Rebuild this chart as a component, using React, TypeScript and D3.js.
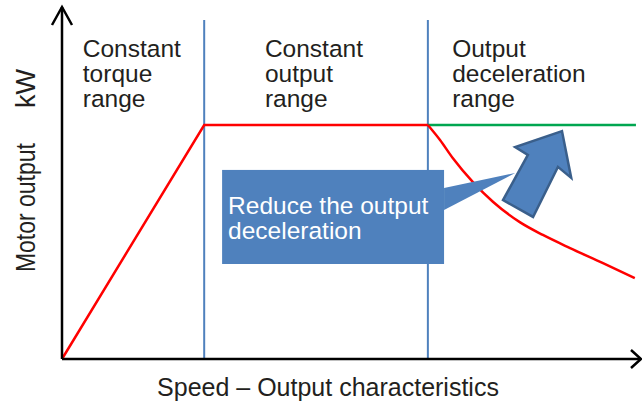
import React, { useEffect, useRef } from 'react';
import * as d3 from 'd3';

// speed (0-100) vs motor output (0-150, rated = 100)
const rampX = [0, 24.6];
const rampY = [0, 100];
const flatX = [24.6, 63.3];
const flatY = [100, 100];
const decelX = [63.3, 65.4, 67.6, 71.1, 74.6, 79.2, 83.2, 87.9, 93.6, 99.1];
const decelY = [100, 93.6, 85.9, 75.6, 67.1, 58.5, 53.0, 47.4, 41.0, 34.6];
const greenX = [63.3, 99.3];
const greenY = [100, 100];
const boundaries = [24.6, 63.3];

const regionLabels = [
  ['Constant', 'torque', 'range'],
  ['Constant', 'output', 'range'],
  ['Output', 'deceleration', 'range'],
];
const regionStart = [3.6, 35.1, 67.5];

const calloutLines = ['Reduce the output', 'deceleration'];
// annotation shapes, in data units
const boxX = [27.7, 66.1];
const boxY = [80.8, 40.6];
const pointerX = [66.1, 78.4, 66.1];
const pointerY = [73.1, 79.5, 63.7];
const arrowX = [86.5, 78.4, 80.6, 76.3, 81.5, 85.8, 88.1];
const arrowY = [97.4, 90.6, 87.2, 67.9, 60.7, 82.1, 77.4];

const width = 642,
  height = 405;
const font = '"Liberation Sans", Arial, sans-serif';

export default function App() {
  const ref = useRef<SVGSVGElement>(null);

  useEffect(() => {
    const svg = d3.select(ref.current);
    svg.selectAll('*').remove();

    const x = d3.scaleLinear().domain([0, 100]).range([62, 640]);
    const y = d3.scaleLinear().domain([0, 150]).range([359, 8]);

    const line = d3
      .line<[number, number]>()
      .x((d) => x(d[0]))
      .y((d) => y(d[1]));
    const smooth = d3
      .line<[number, number]>()
      .x((d) => x(d[0]))
      .y((d) => y(d[1]))
      .curve(d3.curveMonotoneX);
    const zip = (a: number[], b: number[]) => a.map((v, i) => [v, b[i]] as [number, number]);

    // region dividers
    svg
      .selectAll('line.div')
      .data(boundaries)
      .join('line')
      .attr('x1', (d) => x(d))
      .attr('x2', (d) => x(d))
      .attr('y1', 20)
      .attr('y2', y(0))
      .attr('stroke', '#4f81bd')
      .attr('stroke-width', 2);

    // green target line
    svg
      .append('path')
      .attr('d', line(zip(greenX, greenY)))
      .attr('fill', 'none')
      .attr('stroke', '#00a650')
      .attr('stroke-width', 2.5);

    // red output curve
    svg
      .append('path')
      .attr('d', line(zip(rampX.concat(flatX.slice(1)), rampY.concat(flatY.slice(1)))))
      .attr('fill', 'none')
      .attr('stroke', '#ff0000')
      .attr('stroke-width', 2.5);
    svg
      .append('path')
      .attr('d', smooth(zip(decelX, decelY)))
      .attr('fill', 'none')
      .attr('stroke', '#ff0000')
      .attr('stroke-width', 2.5);

    // axes with open arrowheads
    const ax = svg.append('g').attr('stroke', '#000').attr('stroke-width', 2.5).attr('fill', 'none');
    ax.append('path').attr('d', `M${x(0)},${y(0)}V${y(150) - 1}`);
    ax.append('path').attr('d', `M${x(0) - 10},${y(150) + 17}L${x(0)},${y(150) - 1}L${x(0) + 10},${y(150) + 17}`);
    ax.append('path').attr('d', `M${x(0)},${y(0)}H${width - 1}`);
    ax.append('path').attr('d', `M${width - 11},${y(0) - 9}L${width - 1},${y(0)}L${width - 11},${y(0) + 9}`);

    // region labels
    regionLabels.forEach((lines, i) => {
      const t = svg
        .append('text')
        .attr('x', x(regionStart[i]))
        .attr('y', 57)
        .attr('font-family', font)
        .attr('font-size', 24.5)
        .attr('fill', '#231f20');
      lines.forEach((s, j) => {
        t.append('tspan').attr('x', x(regionStart[i])).attr('dy', j === 0 ? 0 : 25).text(s);
      });
    });

    // callout
    svg
      .append('path')
      .attr('d', line(zip(pointerX, pointerY)) + 'Z')
      .attr('fill', '#4f81bd');
    svg
      .append('rect')
      .attr('x', x(boxX[0]))
      .attr('y', y(boxY[0]))
      .attr('width', x(boxX[1]) - x(boxX[0]))
      .attr('height', y(boxY[1]) - y(boxY[0]))
      .attr('fill', '#4f81bd');
    const ct = svg
      .append('text')
      .attr('font-family', font)
      .attr('font-size', 24.5)
      .attr('fill', '#fff');
    calloutLines.forEach((s, j) => {
      ct.append('tspan')
        .attr('x', x(boxX[0]) + 6)
        .attr('y', 214 + j * 25)
        .text(s);
    });

    // block arrow
    svg
      .append('path')
      .attr('d', line(zip(arrowX, arrowY)) + 'Z')
      .attr('fill', '#4f81bd')
      .attr('stroke', '#3a5f8b')
      .attr('stroke-width', 2.5)
      .attr('stroke-linejoin', 'miter');

    // axis titles (narrow lettering in the original)
    svg
      .append('text')
      .attr('transform', 'translate(35,272) rotate(-90) scale(0.85,1)')
      .attr('font-family', font)
      .attr('font-size', 27)
      .attr('fill', '#231f20')
      .text('Motor output');
    svg
      .append('text')
      .attr('transform', 'translate(35,108) rotate(-90)')
      .attr('font-family', font)
      .attr('font-size', 27)
      .attr('fill', '#231f20')
      .text('kW');
    svg
      .append('text')
      .attr('x', 328)
      .attr('y', 396)
      .attr('text-anchor', 'middle')
      .attr('font-family', font)
      .attr('font-size', 25)
      .attr('fill', '#231f20')
      .text('Speed – Output characteristics');
  }, []);

  return (
    <svg
      ref={ref}
      width={width}
      height={height}
      viewBox={`0 0 ${width} ${height}`}
      style={{ position: 'absolute', left: 0, top: 0, background: '#fff' }}
    />
  );
}
